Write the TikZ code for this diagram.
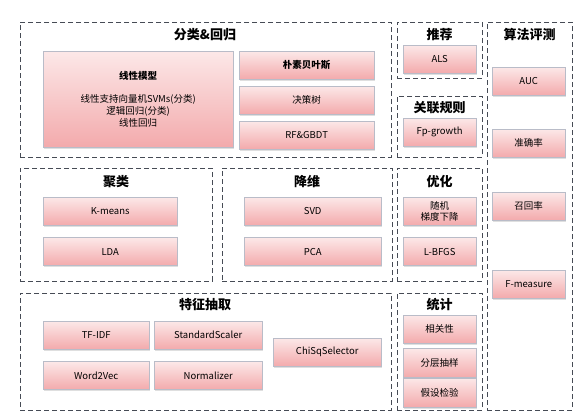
\documentclass[tikz,border=0pt]{standalone}
\usepackage{fontspec}
\setmainfont{Noto Sans CJK SC}
\usepackage{tikz}
\usetikzlibrary{positioning,shadows}
\definecolor{boxtop}{RGB}{252,232,232}
\definecolor{boxbot}{RGB}{243,170,172}
\definecolor{boxline}{RGB}{185,188,200}
\definecolor{grpline}{RGB}{70,75,85}

\begin{document}
\begin{tikzpicture}[
    x=1pt, y=-1pt,
    every node/.style={align=center},
    group/.style={draw=grpline, dash pattern=on 5pt off 3pt, thin,
        anchor=north west, inner sep=0pt},
    grptitle/.style={font=\fontsize{13}{15}\selectfont\bfseries, anchor=north},
    algo/.style={draw=boxline, top color=boxtop, bottom color=boxbot,
        anchor=north west, inner sep=0pt,
        drop shadow={opacity=0.25, shadow xshift=1pt, shadow yshift=-1.5pt},
        font=\fontsize{9.5}{12}\selectfont},
    wide/.style={algo, minimum width=135pt, minimum height=28pt},
    narrow/.style={algo, minimum width=73pt, minimum height=28pt},
    feat/.style={algo, minimum width=107pt, minimum height=28pt}
]
\useasboundingbox (0,0) rectangle (581,415);

% groups
\node[group, minimum width=371pt, minimum height=135pt] (clsgrp) at (20,22) {};
\node[group, minimum width=85pt, minimum height=56pt] (recgrp) at (397,22) {};
\node[group, minimum width=85pt, minimum height=61pt] (assgrp) at (397,96) {};
\node[group, minimum width=85pt, minimum height=388pt] (evalgrp) at (487,22) {};
\node[group, minimum width=192pt, minimum height=113pt] (clugrp) at (20,168) {};
\node[group, minimum width=170pt, minimum height=113pt] (dimgrp) at (222,168) {};
\node[group, minimum width=85pt, minimum height=113pt] (optgrp) at (397,168) {};
\node[group, minimum width=371pt, minimum height=117pt] (featgrp) at (20,293) {};
\node[group, minimum width=85pt, minimum height=117pt] (statgrp) at (397,293) {};

% titles
\node[grptitle] (clstitle) at (205,25) {分类\&回归};
\node[grptitle] (rectitle) at (439.5,25) {推荐};
\node[grptitle] (asstitle) at (439.5,98) {关联规则};
\node[grptitle] (evaltitle) at (529.5,25) {算法评测};
\node[grptitle] (clutitle) at (116,172) {聚类};
\node[grptitle] (dimtitle) at (307,172) {降维};
\node[grptitle] (opttitle) at (439.5,172) {优化};
\node[grptitle] (feattitle) at (205,295) {特征抽取};
\node[grptitle] (stattitle) at (439.5,295) {统计};

% classification & regression
\node[algo, minimum width=190pt, minimum height=96pt] (linear) at (43,51)
    {{\bfseries 线性模型}\\[11pt]
     线性支持向量机SVMs(分类)\\逻辑回归(分类)\\线性回归};
\node[wide, font=\fontsize{9.5}{12}\selectfont\bfseries] (bayes) at (239,51) {朴素贝叶斯};
\node[wide, below=6.5pt of bayes] (tree) {决策树};
\node[wide, below=6.5pt of tree] (rf) {RF\&GBDT};

% recommendation, association
\node[narrow] (als) at (403,45) {ALS};
\node[narrow] (fp) at (403,118) {Fp-growth};

% evaluation
\node[narrow] (auc) at (492,67) {AUC};
\node[narrow] (acc) at (492,129) {准确率};
\node[narrow] (recall) at (492,192) {召回率};
\node[narrow] (fm) at (492,270) {F-measure};

% clustering
\node[wide, minimum width=134pt] (kmeans) at (43,197) {K-means};
\node[wide, minimum width=134pt, below=12pt of kmeans] (lda) {LDA};

% dimensionality reduction
\node[wide, minimum width=137pt] (svd) at (244,197) {SVD};
\node[wide, minimum width=137pt, below=12pt of svd] (pca) {PCA};

% optimisation
\node[narrow, font=\fontsize{9.5}{11}\selectfont] (sgd) at (403,197) {随机\\梯度下降};
\node[narrow, below=12pt of sgd] (lbfgs) {L-BFGS};

% feature extraction
\node[feat, minimum width=106pt] (tfidf) at (43,321) {TF-IDF};
\node[feat, minimum width=106pt, below=12pt of tfidf] (w2v) {Word2Vec};
\node[feat, minimum width=108pt] (scaler) at (154,321) {StandardScaler};
\node[feat, minimum width=108pt, below=12pt of scaler] (norm) {Normalizer};
\node[feat, minimum width=108pt] (chisq) at (273,338) {ChiSqSelector};

% statistics
\node[narrow] (corr) at (403,315) {相关性};
\node[narrow, minimum height=29pt, below=5pt of corr] (strat) {分层抽样};
\node[narrow, minimum height=29pt, below=0pt of strat] (hypo) {假设检验};
\end{tikzpicture}
\end{document}
